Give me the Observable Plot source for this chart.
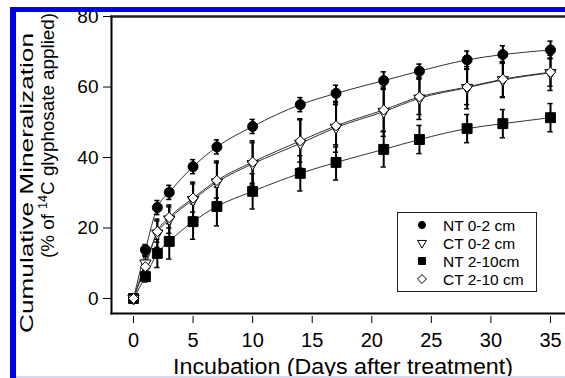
<!DOCTYPE html>
<html><head><meta charset="utf-8">
<script src="https://cdn.jsdelivr.net/npm/d3@7"></script>
<script src="https://cdn.jsdelivr.net/npm/@observablehq/plot@0.6"></script>
<style>
body{margin:0;background:#fff;}
#wrap{position:relative;width:565px;height:378px;overflow:hidden;font-family:"Liberation Sans",Arial,sans-serif;background:#fff;}
#wrap svg{position:absolute;left:0;top:0;overflow:visible;}
.deco{position:absolute;}
</style></head><body><div id="wrap"></div>
<script>
// ---- data ----
const days = [0, 1, 2, 3, 5, 7, 10, 14, 17, 21, 24, 28, 31, 35];
const ntTop = [0, 13.8, 25.8, 30.1, 37.4, 43.0, 48.8, 55.0, 58.2, 61.8, 64.5, 67.7, 69.2, 70.5];
const ntTopErr = [0, 1.5, 2, 2, 2, 2, 2, 2, 2.3, 2.5, 2, 2.5, 2.5, 2.5];
const ctTop = [0, 10.0, 18.5, 22.5, 28.0, 33.0, 38.2, 44.0, 48.5, 53.0, 56.8, 59.8, 62.0, 64.0];
const ctTopErr = [0, 2, 4, 4, 5, 6, 6, 7, 7, 7, 6, 6, 5, 5];
const ntSub = [0, 6.2, 12.8, 16.2, 21.8, 26.1, 30.4, 35.5, 38.6, 42.3, 45.1, 48.2, 49.6, 51.3];
const ntSubErr = [0, 1.5, 4, 5, 5, 5.5, 5, 5, 5, 5, 4, 4, 4, 4];
const ctSub = [0, 9.0, 19.0, 23.0, 28.5, 33.5, 38.7, 44.7, 49.0, 53.5, 57.2, 60.0, 62.2, 64.2];
const ctSubErr = [0, 1.5, 3, 3, 4, 5, 6, 6, 6, 6, 5, 5, 5, 4];
const seriesNames = ["NT 0-2 cm", "CT 0-2 cm", "NT 2-10cm", "CT 2-10 cm"];
const xTicks = [0, 5, 10, 15, 20, 25, 30, 35];
const yTicks = [0, 20, 40, 60, 80];
const xTitle = "Incubation (Days after treatment)";
const yTitle1 = "Cumulative Mineralization";

// ---- build tables ----
const triDown = {draw(ctx, size) {
  const a = Math.sqrt(size * 4 / Math.sqrt(3)), h = a * Math.sqrt(3) / 2;
  ctx.moveTo(-a / 2, -h / 3); ctx.lineTo(a / 2, -h / 3); ctx.lineTo(0, 2 * h / 3); ctx.closePath();
}};
const styles = [
  {symbol: "circle", fill: "black", r: 5},
  {symbol: triDown, fill: "white", r: 4.2},
  {symbol: "square", fill: "black", r: 5.6},
  {symbol: "diamond2", fill: "white", r: 4.6}
];
const vals = [ntTop, ctTop, ntSub, ctSub];
const errs = [ntTopErr, ctTopErr, ntSubErr, ctSubErr];
const rows = [];
seriesNames.forEach((s, i) => days.forEach((d, j) => rows.push({s, i, x: d, y: vals[i][j], e: errs[i][j]})));
const withErr = rows.filter(d => d.e > 0);
const drawOrder = [2, 0, 1, 3];

const marks = [
  Plot.frame({anchor: "left", strokeWidth: 2}),
  Plot.frame({anchor: "top", strokeWidth: 2.5, stroke: "#222"}),
  Plot.frame({anchor: "bottom", strokeWidth: 2}),
  Plot.axisY({ticks: yTicks, tickSize: 8, tickPadding: 5, fontSize: 19, tickFormat: d => d, label: null}),
  Plot.axisX({ticks: xTicks, tickSize: 7, tickPadding: 9, dy: 3, fontSize: 20, tickFormat: d => d, label: null}),
  ...seriesNames.map(s => Plot.line(rows.filter(d => d.s === s), {x: "x", y: "y", curve: "monotone-x", stroke: "#333", strokeWidth: 1})),
  Plot.ruleX(withErr, {x: "x", y1: d => d.y - d.e, y2: d => d.y + d.e, stroke: "black", strokeWidth: 2}),
  Plot.ruleY(withErr, {y: d => d.y + d.e, x1: d => d.x - 0.22, x2: d => d.x + 0.22, stroke: "black", strokeWidth: 1.5}),
  Plot.ruleY(withErr, {y: d => d.y - d.e, x1: d => d.x - 0.22, x2: d => d.x + 0.22, stroke: "black", strokeWidth: 1.5}),
  ...drawOrder.map(i => Plot.dot(rows.filter(d => d.i === i), {x: "x", y: "y", symbol: () => styles[i].symbol, r: styles[i].r, fill: styles[i].fill, stroke: "black", strokeWidth: 1}))
];

const chart = Plot.plot({
  width: 565, height: 378,
  marginLeft: 111, marginRight: 0, marginTop: 16, marginBottom: 65,
  style: {fontFamily: "'Liberation Sans', Arial, sans-serif", color: "black", background: "transparent"},
  x: {domain: [0, 35], range: [133, 550], label: null},
  y: {domain: [0, 80], range: [298, 16], label: null},
  symbol: {type: "identity"},
  marks
});
const wrap = document.getElementById("wrap");
wrap.appendChild(chart);

// ---- overlay: titles and legend ----
const ov = d3.select(wrap).append("svg").attr("width", 565).attr("height", 378)
  .style("font-family", "'Liberation Sans', Arial, sans-serif");
ov.append("text").attr("x", 343).attr("y", 374).attr("text-anchor", "middle").attr("font-size", 22)
  .attr("textLength", 340).attr("lengthAdjust", "spacingAndGlyphs").text(xTitle);
ov.append("text").attr("transform", "translate(33,333) rotate(-90)").attr("font-size", 18)
  .attr("textLength", 300).attr("lengthAdjust", "spacingAndGlyphs").text(yTitle1);
const t2 = ov.append("text").attr("transform", "translate(54,258) rotate(-90)").attr("font-size", 18)
  .attr("textLength", 245).attr("lengthAdjust", "spacingAndGlyphs");
t2.append("tspan").text("(% of ");
t2.append("tspan").attr("font-size", 12).attr("dy", -7).text("14");
t2.append("tspan").attr("dy", 7).text("C glyphosate applied)");

const lg = ov.append("g");
lg.append("rect").attr("x", 397.5).attr("y", 212.5).attr("width", 139).attr("height", 79).attr("fill", "white").attr("stroke", "#222");
const legSym = [
  {sym: d3.symbolCircle, size: 40, fill: "black"},
  {sym: triDown, size: 34, fill: "white"},
  {sym: d3.symbolSquare, size: 49, fill: "black"},
  {sym: d3.symbolDiamond2, size: 50, fill: "white"}
];
seriesNames.forEach((s, i) => {
  const cy = 225 + i * 18;
  lg.append("path").attr("d", d3.symbol(legSym[i].sym, legSym[i].size)()).attr("transform", `translate(422,${cy})`)
    .attr("fill", legSym[i].fill).attr("stroke", "black").attr("stroke-width", 1);
  lg.append("text").attr("x", 443).attr("y", cy + 5.5).attr("font-size", 15.5).text(s);
});

// ---- page decoration (blue frame of the source screenshot) ----
[[10, 7, 6, 371, "#0000f0"], [10, 7, 555, 5, "#0000f0"], [16, 376, 549, 2, "#d8d8f4"]].forEach(([l, t, w, h, c]) => {
  const el = document.createElement("div"); el.className = "deco";
  Object.assign(el.style, {left: l + "px", top: t + "px", width: w + "px", height: h + "px", background: c});
  wrap.appendChild(el);
});
</script></body></html>
